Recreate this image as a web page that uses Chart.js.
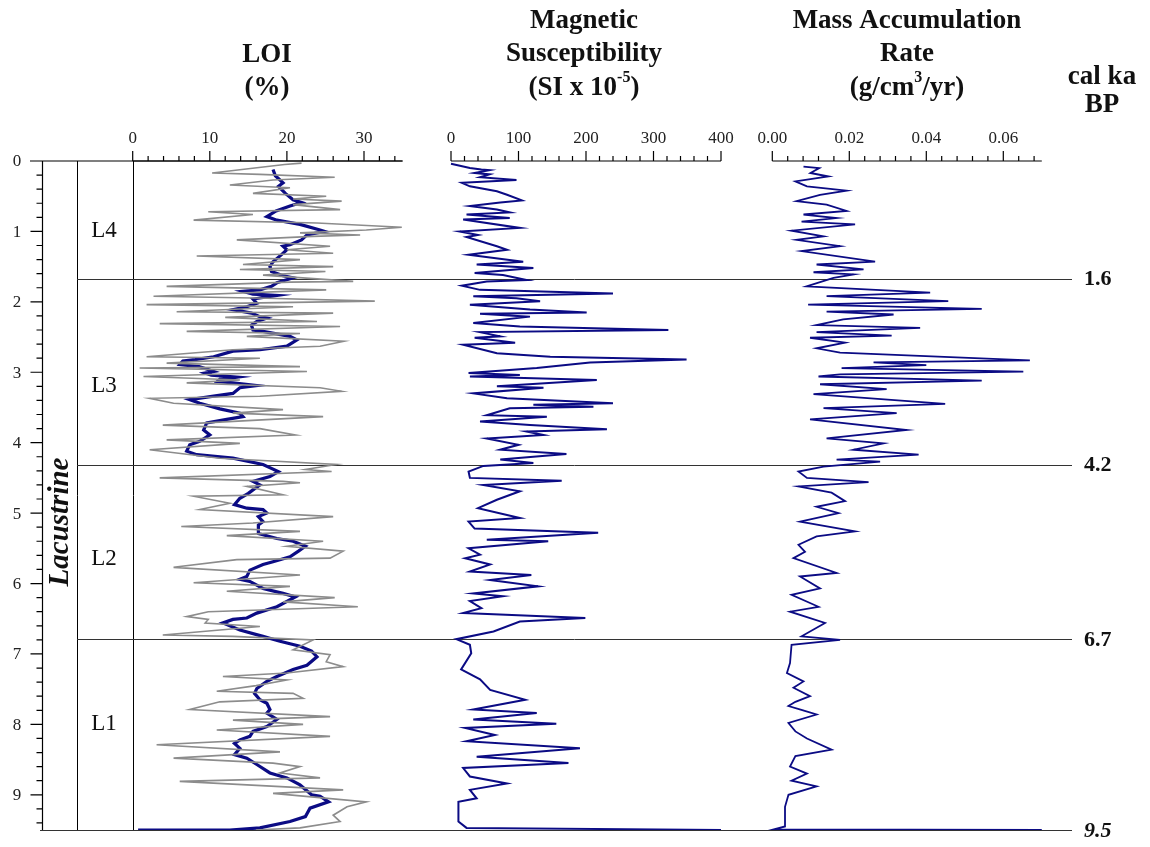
<!DOCTYPE html>
<html>
<head>
<meta charset="utf-8">
<script src="https://cdn.jsdelivr.net/npm/chart.js@4.4.1/dist/chart.umd.min.js"></script>
<style>
  html, body { margin: 0; padding: 0; background: #fff; }
  #wrap { position: relative; width: 1150px; height: 847px; }
  #core { display: block; }
</style>
</head>
<body>
<div id="wrap"><canvas id="core" width="1150" height="847"></canvas></div>
<script>
// LOI (%) - raw measurements (grey)
const loiRawDepth = [0.03, 0.05, 0.17, 0.19, 0.23, 0.27, 0.34, 0.38, 0.46, 0.50, 0.54, 0.57, 0.62, 0.69, 0.72, 0.76, 0.84, 0.88, 0.94, 0.98,
  1.02, 1.05, 1.07, 1.12, 1.21, 1.26, 1.31, 1.35, 1.40, 1.47, 1.50, 1.54, 1.57, 1.62, 1.71, 1.72, 1.78, 1.83, 1.92, 1.95,
  1.99, 2.04, 2.07, 2.14, 2.16, 2.22, 2.28, 2.31, 2.35, 2.42, 2.45, 2.49, 2.56, 2.63, 2.68, 2.78, 2.80, 2.87, 2.92, 2.94,
  2.99, 3.06, 3.11, 3.15, 3.22, 3.27, 3.34, 3.37, 3.44, 3.53, 3.58, 3.63, 3.75, 3.80, 3.89, 3.96, 4.01, 4.10, 4.22, 4.31,
  4.38, 4.41, 4.50, 4.55, 4.57, 4.62, 4.74, 4.76, 4.86, 4.95, 5.05, 5.14, 5.19, 5.26, 5.32, 5.40, 5.47, 5.54, 5.64, 5.66,
  5.77, 5.88, 5.99, 6.04, 6.11, 6.20, 6.26, 6.33, 6.40, 6.47, 6.51, 6.56, 6.61, 6.73, 6.75, 6.80, 6.94, 7.01, 7.11, 7.18,
  7.27, 7.32, 7.37, 7.45, 7.53, 7.56, 7.63, 7.68, 7.79, 7.89, 7.94, 8.00, 8.08, 8.17, 8.29, 8.39, 8.48, 8.55, 8.60, 8.69,
  8.76, 8.81, 8.93, 8.98, 9.10, 9.17, 9.29, 9.38, 9.47, 9.50];
const loiRawValue = [21.9, 19.7, 10.3, 16.5, 26.2, 18.2, 12.6, 20.4, 15.6, 25.1, 20.8, 27.1, 20.8, 26.9, 9.8, 15.6, 7.9, 23.9, 34.9, 30.3,
  21.7, 29.5, 23.4, 13.5, 25.6, 20.0, 26.0, 8.3, 21.7, 14.3, 26.0, 13.9, 25.0, 16.9, 28.6, 20.4, 4.4, 25.1, 2.7, 17.4,
  31.4, 1.8, 20.8, 5.7, 26.0, 12.0, 23.9, 3.5, 26.9, 7.0, 21.7, 14.8, 27.4, 24.3, 13.0, 1.8, 16.5, 4.4, 21.7, 0.9,
  22.6, 1.4, 13.9, 7.0, 24.3, 27.1, 16.5, 2.2, 5.3, 19.5, 13.0, 24.7, 3.9, 16.5, 21.1, 4.4, 13.9, 2.2, 11.3, 26.4,
  22.4, 25.8, 3.5, 19.5, 21.7, 14.8, 19.5, 7.9, 12.6, 8.7, 26.0, 15.6, 6.3, 21.7, 12.2, 24.7, 20.0, 27.3, 25.6, 13.5,
  5.3, 21.7, 7.9, 20.4, 12.2, 26.2, 19.5, 29.2, 9.8, 7.0, 9.8, 9.4, 16.5, 3.9, 13.0, 23.4, 20.8, 25.6, 25.1, 27.3,
  20.0, 11.7, 20.0, 16.0, 10.9, 20.8, 22.1, 11.3, 7.4, 25.6, 13.0, 22.1, 10.9, 25.6, 3.1, 19.1, 5.3, 18.2, 21.7, 19.1,
  24.3, 6.1, 27.3, 18.2, 30.3, 27.8, 26.0, 26.9, 21.7, 16.0];

// LOI (%) - running mean (blue)
const loiMeanDepth = [0.12, 0.21, 0.31, 0.36, 0.46, 0.55, 0.59, 0.64, 0.71, 0.79, 0.84, 0.90, 0.98, 1.00, 1.05, 1.12, 1.19, 1.21, 1.26, 1.33,
  1.43, 1.50, 1.57, 1.63, 1.66, 1.73, 1.78, 1.83, 1.85, 1.89, 1.91, 1.96, 2.02, 2.07, 2.11, 2.16, 2.21, 2.23, 2.28, 2.33,
  2.40, 2.42, 2.49, 2.54, 2.63, 2.68, 2.70, 2.78, 2.82, 2.84, 2.89, 2.92, 2.94, 2.99, 3.01, 3.04, 3.07, 3.10, 3.13, 3.15,
  3.19, 3.22, 3.30, 3.34, 3.39, 3.44, 3.52, 3.58, 3.63, 3.67, 3.72, 3.82, 3.89, 3.98, 4.03, 4.12, 4.17, 4.22, 4.31, 4.41,
  4.48, 4.55, 4.60, 4.67, 4.72, 4.79, 4.88, 4.93, 4.95, 5.00, 5.05, 5.12, 5.17, 5.29, 5.36, 5.40, 5.47, 5.54, 5.62, 5.69,
  5.73, 5.81, 5.90, 5.94, 5.97, 6.07, 6.14, 6.19, 6.33, 6.42, 6.49, 6.51, 6.56, 6.66, 6.75, 6.82, 6.89, 6.96, 7.04, 7.16,
  7.22, 7.32, 7.39, 7.49, 7.56, 7.65, 7.70, 7.79, 7.84, 7.93, 8.03, 8.10, 8.17, 8.22, 8.27, 8.34, 8.43, 8.48, 8.57, 8.69,
  8.76, 8.86, 9.00, 9.02, 9.10, 9.19, 9.31, 9.38, 9.47, 9.50, 9.50];
const loiMeanValue = [18.2, 18.5, 19.5, 18.9, 19.8, 20.8, 21.9, 20.4, 18.6, 17.4, 18.7, 21.7, 24.3, 24.9, 22.6, 21.9, 20.4, 19.5, 20.0, 19.3,
  18.2, 17.8, 18.0, 19.5, 20.8, 18.7, 18.0, 16.5, 14.3, 15.6, 18.7, 15.6, 16.1, 14.8, 13.0, 15.4, 16.5, 17.4, 16.1, 15.4,
  15.6, 16.9, 20.4, 21.3, 20.0, 16.5, 13.0, 10.5, 8.1, 6.5, 6.1, 8.6, 9.2, 10.5, 9.4, 10.2, 13.5, 11.3, 11.0, 13.0,
  16.1, 13.9, 13.0, 10.5, 7.4, 8.7, 11.3, 13.9, 14.3, 12.2, 9.6, 9.2, 10.0, 8.7, 7.4, 7.0, 8.3, 13.0, 16.9, 18.9,
  17.8, 15.6, 16.5, 15.6, 15.0, 13.9, 13.2, 14.8, 16.9, 17.4, 16.3, 16.9, 16.3, 16.3, 18.7, 20.8, 22.4, 21.5, 20.4, 18.2,
  16.9, 15.2, 14.8, 13.9, 15.2, 16.9, 19.5, 21.1, 18.7, 16.1, 14.8, 13.0, 11.7, 13.9, 16.9, 19.1, 21.7, 23.2, 23.9, 22.6,
  20.8, 18.7, 17.4, 16.1, 15.8, 16.5, 17.4, 17.8, 17.4, 18.7, 17.4, 15.6, 15.2, 13.9, 13.2, 13.9, 13.2, 14.8, 16.1, 17.8,
  20.0, 21.7, 23.2, 24.3, 25.4, 23.0, 22.4, 20.4, 16.5, 12.6, 0.7];

// Magnetic susceptibility (SI x 10^-5)
const magDepth = [0.04, 0.10, 0.12, 0.13, 0.17, 0.19, 0.23, 0.27, 0.31, 0.36, 0.43, 0.48, 0.56, 0.59, 0.64, 0.69, 0.73, 0.76, 0.81, 0.83,
  0.95, 1.00, 1.05, 1.08, 1.21, 1.26, 1.33, 1.43, 1.47, 1.52, 1.59, 1.62, 1.69, 1.71, 1.77, 1.83, 1.88, 1.92, 1.95, 1.99,
  2.04, 2.11, 2.15, 2.17, 2.21, 2.30, 2.35, 2.40, 2.43, 2.49, 2.51, 2.58, 2.61, 2.73, 2.78, 2.82, 2.86, 2.94, 3.01, 3.04,
  3.06, 3.11, 3.20, 3.22, 3.30, 3.37, 3.44, 3.46, 3.49, 3.51, 3.61, 3.63, 3.70, 3.75, 3.81, 3.84, 3.89, 3.94, 4.03, 4.10,
  4.16, 4.24, 4.29, 4.33, 4.41, 4.50, 4.54, 4.60, 4.69, 4.81, 4.93, 5.07, 5.12, 5.22, 5.28, 5.38, 5.40, 5.50, 5.59, 5.64,
  5.73, 5.83, 5.88, 5.95, 6.04, 6.14, 6.18, 6.25, 6.35, 6.42, 6.49, 6.54, 6.68, 6.79, 6.87, 6.99, 7.22, 7.36, 7.51, 7.65,
  7.79, 7.84, 7.93, 7.99, 8.05, 8.15, 8.24, 8.34, 8.46, 8.55, 8.62, 8.74, 8.84, 8.93, 9.05, 9.10, 9.38, 9.47, 9.50];
const magValue = [0, 28, 45, 57, 35, 57, 43, 97, 16, 28, 68, 83, 105, 73, 28, 68, 87, 23, 87, 18,
  102, 13, 40, 23, 68, 83, 26, 107, 38, 122, 35, 77, 112, 53, 16, 43, 240, 33, 97, 132,
  28, 117, 201, 43, 117, 33, 102, 322, 43, 73, 35, 95, 18, 68, 147, 349, 206, 127, 26, 102,
  28, 216, 68, 137, 33, 83, 240, 122, 211, 87, 53, 142, 43, 117, 231, 112, 137, 53, 100, 73,
  171, 73, 122, 48, 26, 28, 164, 48, 102, 68, 40, 102, 26, 35, 218, 53, 144, 26, 43, 21,
  58, 28, 119, 58, 129, 33, 77, 28, 45, 18, 199, 102, 63, 8, 28, 30, 15, 43, 58, 110,
  33, 127, 33, 156, 21, 65, 23, 191, 38, 174, 18, 28, 83, 28, 38, 11, 11, 23, 400];

// Mass accumulation rate (g/cm3/yr)
const marDepth = [0.08, 0.10, 0.17, 0.22, 0.29, 0.36, 0.42, 0.48, 0.57, 0.62, 0.71, 0.76, 0.81, 0.86, 0.90, 0.99, 1.07, 1.12, 1.21, 1.28,
  1.43, 1.47, 1.54, 1.58, 1.61, 1.66, 1.78, 1.87, 1.92, 1.99, 2.04, 2.10, 2.14, 2.18, 2.25, 2.33, 2.37, 2.43, 2.48, 2.51,
  2.58, 2.66, 2.72, 2.83, 2.86, 2.90, 2.94, 2.99, 3.03, 3.06, 3.12, 3.17, 3.24, 3.31, 3.45, 3.51, 3.58, 3.67, 3.82, 3.94,
  4.01, 4.10, 4.17, 4.24, 4.27, 4.34, 4.41, 4.50, 4.56, 4.62, 4.71, 4.83, 4.91, 5.00, 5.12, 5.26, 5.33, 5.45, 5.55, 5.64,
  5.85, 5.90, 6.07, 6.16, 6.33, 6.40, 6.56, 6.75, 6.80, 6.87, 7.13, 7.27, 7.39, 7.48, 7.60, 7.68, 7.74, 7.80, 7.86, 7.98,
  8.10, 8.20, 8.36, 8.45, 8.60, 8.70, 8.80, 8.88, 9.00, 9.17, 9.45, 9.49, 9.50];
const marValue = [0.0081, 0.0122, 0.0099, 0.0146, 0.0060, 0.0090, 0.0193, 0.0124, 0.0063, 0.0141, 0.0193, 0.0081, 0.0167, 0.0076, 0.0215, 0.0050, 0.0133, 0.0063, 0.0176, 0.0076,
  0.0267, 0.0115, 0.0237, 0.0107, 0.0211, 0.0159, 0.0089, 0.0410, 0.0141, 0.0457, 0.0093, 0.0544, 0.0141, 0.0315, 0.0184, 0.0115, 0.0384, 0.0115, 0.0310, 0.0098,
  0.0189, 0.0115, 0.0176, 0.0669, 0.0263, 0.0400, 0.0180, 0.0652, 0.0176, 0.0120, 0.0544, 0.0124, 0.0297, 0.0107, 0.0449, 0.0133, 0.0323, 0.0098, 0.0349, 0.0141,
  0.0289, 0.0211, 0.0380, 0.0167, 0.0280, 0.0133, 0.0068, 0.0090, 0.0250, 0.0068, 0.0154, 0.0189, 0.0115, 0.0172, 0.0072, 0.0215, 0.0115, 0.0068, 0.0085, 0.0055,
  0.0167, 0.0072, 0.0124, 0.0050, 0.0120, 0.0046, 0.0137, 0.0076, 0.0176, 0.0050, 0.0046, 0.0038, 0.0081, 0.0055, 0.0098, 0.0060, 0.0042, 0.0080, 0.0115, 0.0042,
  0.0060, 0.0090, 0.0154, 0.0060, 0.0046, 0.0090, 0.0050, 0.0115, 0.0042, 0.0033, 0.0033, 0.0005, 0.0700];

// axis ticks and annotations
const depthTicks = [0, 1, 2, 3, 4, 5, 6, 7, 8, 9];
const loiTicks = [0, 10, 20, 30];
const magTicks = [0, 100, 200, 300, 400];
const marTicks = [0, 0.02, 0.04, 0.06];
const zoneNames = ['L4', 'L3', 'L2', 'L1'];
const zoneMid = [1.0, 3.2, 5.65, 8.0];
const zoneBounds = [1.67, 4.31, 6.79, 9.5];
const ageLabels = ['1.6', '4.2', '6.7', '9.5'];

const AREA_L = 42, AREA_R = 1042, AREA_T = 161, AREA_B = 830;
const SERIF = '"Liberation Serif", "Times New Roman", serif';
const NAVY = '#0b0b84';

// place each panel: pixel of the zero value and pixels per unit
function panelRange(zeroPx, pxPerUnit) {
  return { min: (AREA_L - zeroPx) / pxPerUnit, max: (AREA_R - zeroPx) / pxPerUnit };
}
const loiRange = panelRange(132.7, 7.71);
const magRange = panelRange(451, 0.675);
const marRange = panelRange(772.3, 3850);

function pairs(depths, values) {
  return depths.map((d, i) => ({ x: values[i], y: d }));
}

function drawTopAxis(ctx, scale, y, end, majors, minorStep, fmt) {
  const x0 = scale.getPixelForValue(0), x1 = scale.getPixelForValue(end);
  ctx.strokeStyle = '#000';
  ctx.lineWidth = 1.2;
  ctx.beginPath();
  ctx.moveTo(x0, y); ctx.lineTo(x1, y);
  const n = Math.floor(end / minorStep + 1e-6);
  for (let i = 0; i <= n; i++) {
    const v = i * minorStep;
    const px = scale.getPixelForValue(v);
    const isMajor = majors.some(m => Math.abs(m - v) < minorStep / 10);
    ctx.moveTo(px, y); ctx.lineTo(px, y - (isMajor ? 10 : 5));
  }
  ctx.stroke();
  ctx.fillStyle = '#222';
  ctx.font = '17px ' + SERIF;
  ctx.textAlign = 'center';
  ctx.textBaseline = 'alphabetic';
  majors.forEach(m => ctx.fillText(fmt(m), scale.getPixelForValue(m), 143));
}

function centeredLines(ctx, x, lines, baselines) {
  ctx.textAlign = 'center';
  lines.forEach((t, i) => ctx.fillText(t, x, baselines[i]));
}

const frame = {
  id: 'frame',
  beforeDatasetsDraw(chart) {
    const ctx = chart.ctx;
    const ys = chart.scales.y;
    const xl = chart.scales.xLoi;
    const yTop = ys.getPixelForValue(0), yBot = ys.getPixelForValue(9.5);
    ctx.save();
    ctx.strokeStyle = '#000';
    ctx.lineWidth = 1;
    ctx.beginPath();
    // unit column and LOI zero line
    ctx.moveTo(77.5, yTop); ctx.lineTo(77.5, yBot);
    const z = Math.round(xl.getPixelForValue(0)) + 0.5;
    ctx.moveTo(z, yTop); ctx.lineTo(z, yBot);
    ctx.stroke();
    // zone boundaries
    ctx.strokeStyle = '#333';
    ctx.beginPath();
    zoneBounds.forEach(b => {
      const py = Math.round(ys.getPixelForValue(b)) + 0.5;
      ctx.moveTo(b === 9.5 ? 40 : 77, py); ctx.lineTo(1072, py);
    });
    ctx.stroke();
    ctx.restore();
  },
  afterDraw(chart) {
    const ctx = chart.ctx;
    const ys = chart.scales.y;
    const yTop = ys.getPixelForValue(0), yBot = ys.getPixelForValue(9.5);
    ctx.save();

    // depth axis
    const ax = AREA_L + 0.5;
    ctx.strokeStyle = '#000';
    ctx.lineWidth = 1.2;
    ctx.beginPath();
    ctx.moveTo(ax, yTop); ctx.lineTo(ax, yBot);
    for (let i = 0; i <= 47; i++) {
      const py = ys.getPixelForValue(i / 5);
      ctx.moveTo(ax, py); ctx.lineTo(ax - (i % 5 === 0 ? 12 : 6), py);
    }
    // top frame line from the depth axis to the LOI scale end
    ctx.moveTo(30, yTop); ctx.lineTo(chart.scales.xLoi.getPixelForValue(35), yTop);
    ctx.stroke();
    ctx.fillStyle = '#222';
    ctx.font = '17px ' + SERIF;
    ctx.textAlign = 'center';
    ctx.textBaseline = 'middle';
    depthTicks.forEach(t => ctx.fillText(String(t), 17, ys.getPixelForValue(t) + 1));

    // panel axes along the top
    ctx.textBaseline = 'alphabetic';
    drawTopAxis(ctx, chart.scales.xLoi, yTop, 35, loiTicks, 2, v => String(v));
    drawTopAxis(ctx, chart.scales.xMag, yTop, 400, magTicks, 20, v => String(v));
    drawTopAxis(ctx, chart.scales.xMar, yTop, 0.07, marTicks, 0.004, v => v.toFixed(2));

    // titles
    ctx.fillStyle = '#111';
    ctx.font = 'bold 27px ' + SERIF;
    centeredLines(ctx, 267, ['LOI', '(%)'], [62, 95]);
    centeredLines(ctx, 584, ['Magnetic', 'Susceptibility'], [28, 61]);
    ctx.textAlign = 'left';
    const msA = '(SI x 10', msB = ')';
    const wA = ctx.measureText(msA).width, wB = ctx.measureText(msB).width;
    ctx.font = 'bold 16px ' + SERIF;
    const wS = ctx.measureText('-5').width;
    const mx = 584 - (wA + wS + wB) / 2;
    ctx.fillText('-5', mx + wA, 82);
    ctx.font = 'bold 27px ' + SERIF;
    ctx.fillText(msA, mx, 95);
    ctx.fillText(msB, mx + wA + wS, 95);

    centeredLines(ctx, 907, ['Mass Accumulation', 'Rate'], [28, 61]);
    ctx.textAlign = 'left';
    const marA = '(g/cm', marB = '/yr)';
    const wa = ctx.measureText(marA).width, wb = ctx.measureText(marB).width;
    ctx.font = 'bold 16px ' + SERIF;
    const ws = ctx.measureText('3').width;
    const sx = 907 - (wa + ws + wb) / 2;
    ctx.fillText('3', sx + wa, 82);
    ctx.font = 'bold 27px ' + SERIF;
    ctx.fillText(marA, sx, 95);
    ctx.fillText(marB, sx + wa + ws, 95);

    centeredLines(ctx, 1102, ['cal ka', 'BP'], [84, 112]);

    // age labels at zone boundaries
    ctx.textAlign = 'left';
    ctx.textBaseline = 'middle';
    ageLabels.forEach((t, i) => {
      ctx.font = (i === ageLabels.length - 1 ? 'italic bold 22px ' : 'bold 22px ') + SERIF;
      ctx.fillText(t, 1084, ys.getPixelForValue(zoneBounds[i]) + 1);
    });

    // zone names
    ctx.font = '23px ' + SERIF;
    ctx.textAlign = 'center';
    zoneNames.forEach((t, i) => ctx.fillText(t, 104, ys.getPixelForValue(zoneMid[i])));

    // unit label
    ctx.translate(61, 522);
    ctx.rotate(-Math.PI / 2);
    ctx.font = 'italic bold 29px ' + SERIF;
    ctx.fillText('Lacustrine', 0, 0);
    ctx.restore();
  }
};

new Chart(document.getElementById('core'), {
  type: 'scatter',
  data: {
    datasets: [
      { label: 'LOI raw', data: pairs(loiRawDepth, loiRawValue), xAxisID: 'xLoi',
        showLine: true, borderColor: '#8c8c8c', borderWidth: 1.6, pointRadius: 0, tension: 0 },
      { label: 'LOI mean', data: pairs(loiMeanDepth, loiMeanValue), xAxisID: 'xLoi',
        showLine: true, borderColor: NAVY, borderWidth: 3.2, pointRadius: 0, tension: 0 },
      { label: 'Magnetic susceptibility', data: pairs(magDepth, magValue), xAxisID: 'xMag',
        showLine: true, borderColor: NAVY, borderWidth: 2, pointRadius: 0, tension: 0 },
      { label: 'MAR', data: pairs(marDepth, marValue), xAxisID: 'xMar',
        showLine: true, borderColor: NAVY, borderWidth: 1.8, pointRadius: 0, tension: 0 }
    ]
  },
  options: {
    responsive: false,
    animation: false,
    devicePixelRatio: 1,
    layout: { padding: { left: AREA_L, right: 1150 - AREA_R, top: AREA_T, bottom: 847 - AREA_B } },
    plugins: { legend: { display: false }, tooltip: { enabled: false } },
    scales: {
      y: { type: 'linear', reverse: true, min: 0, max: 9.5, display: false },
      xLoi: { type: 'linear', position: 'top', min: loiRange.min, max: loiRange.max, display: false },
      xMag: { type: 'linear', position: 'top', min: magRange.min, max: magRange.max, display: false },
      xMar: { type: 'linear', position: 'top', min: marRange.min, max: marRange.max, display: false }
    }
  },
  plugins: [frame]
});
</script>
</body>
</html>
